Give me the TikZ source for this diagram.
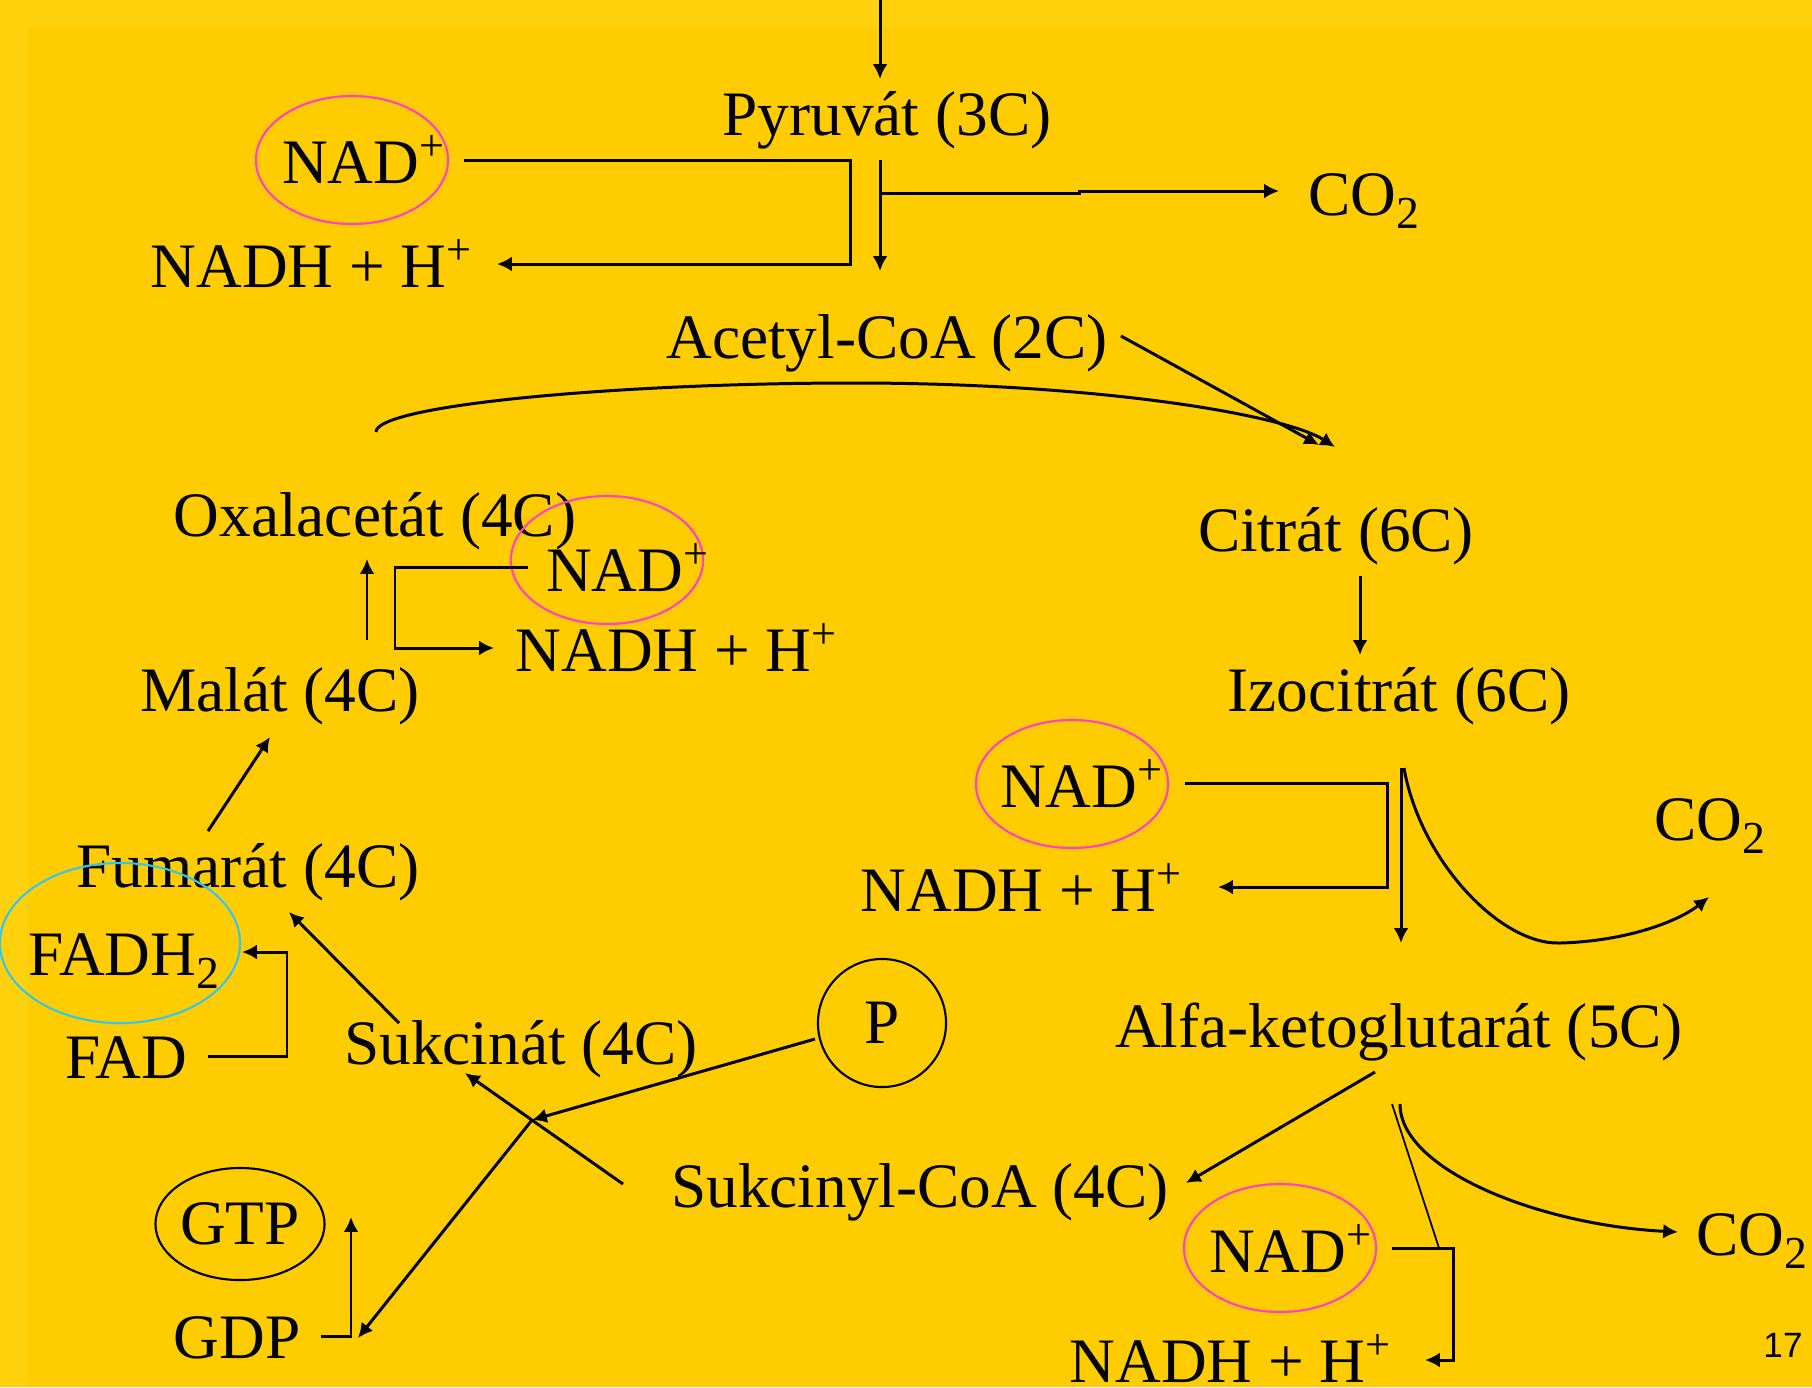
\documentclass[tikz,border=0pt]{standalone}
\usepackage{fontspec}
\setmainfont{Liberation Serif}
\newfontfamily\pagefont{Liberation Sans}
\usetikzlibrary{arrows.meta,shapes.geometric}
\definecolor{slide}{HTML}{FFCC00}
\definecolor{slideband}{HTML}{FFD10C}
\definecolor{ringpink}{HTML}{FF40C8}
\definecolor{ringcyan}{HTML}{30C8F0}
\newcommand{\lowtwo}{\raisebox{-0.22em}{\fontsize{13}{13}\selectfont 2}}

\begin{document}
\begin{tikzpicture}[x=0.01cm,y=-0.01cm,
  chem/.style={font=\fontsize{18}{21}\selectfont,inner sep=0pt,anchor=base},
  ring/.style={ellipse,draw=ringpink,line width=0.6pt,minimum width=1.92cm,
               minimum height=1.28cm,inner sep=0pt},
  cyanring/.style={ellipse,draw=ringcyan,line width=0.6pt,minimum width=2.4cm,
               minimum height=1.6cm,inner sep=0pt},
  blackring/.style={ellipse,draw,line width=0.6pt,inner sep=0pt,
               font=\fontsize{18}{21}\selectfont},
  pagenum/.style={font=\pagefont\fontsize{10}{12}\selectfont,inner sep=0pt,anchor=base},
  arr/.style={-{Latex[length=4.2pt,width=4.2pt]},line width=0.85pt},
  ln/.style={line width=0.85pt},
  thinln/.style={line width=0.5pt}]
\useasboundingbox (0,0) rectangle (1812,1387);
\fill[slide] (0,0) rectangle (1812,1387);
\fill[slideband] (0,0) rectangle (28,1387);
\fill[slideband] (0,0) rectangle (1812,28);

% compounds
\node[chem] (pyr)    at (887,135)  {Pyruvát (3C)};
\node[chem] (acetyl) at (887,358)  {Acetyl-CoA (2C)};
\node[chem] (citrat) at (1336,551) {Citrát (6C)};
\node[chem] (izocit) at (1399,711) {Izocitrát (6C)};
\node[chem] (alfa)   at (1399,1047) {Alfa-ketoglutarát (5C)};
\node[chem] (sukcoa) at (920,1207) {Sukcinyl-CoA (4C)};
\node[chem] (sukc)   at (521,1064) {Sukcinát (4C)};
\node[chem] (fum)    at (248,887)  {Fumarát (4C)};
\node[chem] (malat)  at (280,711)  {Malát (4C)};
\node[chem] (oxal)   at (375,536)  {Oxalacetát (4C)};

% cofactors
\node[ring] (ringA) at (352,160) {};
\node[chem] (nadA)  at (364,183) {NAD\textsuperscript{+}};
\node[chem] (nadhA) at (312,287) {NADH + H\textsuperscript{+}};
\node[chem] (co2A)  at (1364,215) {CO\lowtwo};
\node[ring] (ringD) at (607,560) {};
\node[chem] (nadD)  at (628,591) {NAD\textsuperscript{+}};
\node[chem] (nadhD) at (677,671) {NADH + H\textsuperscript{+}};
\node[ring] (ringB) at (1072,784) {};
\node[chem] (nadB)  at (1082,807) {NAD\textsuperscript{+}};
\node[chem] (nadhB) at (1022,911) {NADH + H\textsuperscript{+}};
\node[chem] (co2B)  at (1710,840) {CO\lowtwo};
\node[ring] (ringC) at (1280,1248) {};
\node[chem] (nadC)  at (1291,1272) {NAD\textsuperscript{+}};
\node[chem] (nadhC) at (1231,1382) {NADH + H\textsuperscript{+}};
\node[chem] (co2C)  at (1752,1255) {CO\lowtwo};
\node[cyanring] (ringF) at (120,943) {};
\node[chem] (fadh)  at (124,975)  {FADH\lowtwo};
\node[chem] (fad)   at (126,1078) {FAD};
\node[blackring,minimum width=1.6cm,minimum height=1.12cm] (gtp) at (240,1224) {GTP};
\node[chem] (gdp)   at (237,1358) {GDP};
\node[blackring,circle,minimum size=1.28cm] (pi) at (882,1023) {P};
\node[pagenum] (page) at (1783,1357) {17};

% connector ends
\coordinate (pyr-in)     at (880,0);
\coordinate (pyr-top)    at (880,79);
\coordinate (pyr-out)    at (880,160);
\coordinate (acetyl-in)  at (880,271);
\coordinate (co2A-fork)  at (880,193);
\coordinate (co2A-step)  at (1079,193);
\coordinate (co2A-in)    at (1279,191);
\coordinate (nadA-out)   at (464,160);
\coordinate (bendA)      at (850,264);
\coordinate (nadhA-in)   at (497,264);
\coordinate (acetyl-out) at (1121,336);
\coordinate (citrat-in)  at (1319,445);
\coordinate (citrat-in2) at (1335,447);
\coordinate (oxal-out)   at (376,432);
\coordinate (citrat-out) at (1360,576);
\coordinate (izocit-in)  at (1360,655);
\coordinate (izocit-out) at (1401,768);
\coordinate (alfa-in)    at (1401,943);
\coordinate (izocit-co2) at (1404,768);
\coordinate (co2B-in)    at (1709,897);
\coordinate (nadB-out)   at (1185,783);
\coordinate (bendB)      at (1387,887);
\coordinate (nadhB-in)   at (1218,887);
\coordinate (alfa-out)   at (1375,1072);
\coordinate (sukcoa-in)  at (1186,1183);
\coordinate (alfa-nad)   at (1392,1104);
\coordinate (joinC)      at (1439,1248);
\coordinate (alfa-co2)   at (1400,1104);
\coordinate (co2C-in)    at (1678,1232);
\coordinate (nadC-out)   at (1392,1248);
\coordinate (bendC)      at (1453,1360);
\coordinate (nadhC-in)   at (1425,1360);
\coordinate (sukcoa-out) at (623,1184);
\coordinate (sukc-in)    at (465,1073);
\coordinate (pi-out)     at (815,1039);
\coordinate (junction)   at (532,1120);
\coordinate (gdp-in)     at (358,1338);
\coordinate (gdp-out)    at (321,1336);
\coordinate (gtp-in)     at (351,1217);
\coordinate (sukc-out)   at (399,1023);
\coordinate (fum-in)     at (289,912);
\coordinate (fad-out)    at (208,1056);
\coordinate (bendF)      at (287,952);
\coordinate (fadh-in)    at (242,952);
\coordinate (fum-out)    at (208,831);
\coordinate (malat-in)   at (270,737);
\coordinate (malat-out)  at (367,640);
\coordinate (oxal-in)    at (367,559);
\coordinate (nadD-out)   at (528,567);
\coordinate (bendD)      at (395,648);
\coordinate (nadhD-in)   at (494,648);

% pyruvate -> acetyl-CoA
\draw[arr] (pyr-in) -- (pyr-top);
\draw[arr] (pyr-out) -- (acetyl-in);
\draw[arr] (co2A-fork) -- (co2A-step) |- (co2A-in);
\draw[arr] (nadA-out) -| (bendA) -- (nadhA-in);

% citrate cycle
\draw[arr] (acetyl-out) -- (citrat-in);
\draw[arr] (oxal-out) .. controls (376,405) and (620,383) .. (854,383)
           .. controls (1100,383) and (1285,415) .. (citrat-in2);
\draw[arr] (citrat-out) -- (izocit-in);
\draw[arr] (izocit-out) -- (alfa-in);
\draw[arr] (izocit-co2) .. controls (1420,860) and (1500,945) .. (1560,943)
           .. controls (1630,941) and (1680,920) .. (co2B-in);
\draw[arr] (nadB-out) -| (bendB) -- (nadhB-in);
\draw[arr] (alfa-out) -- (sukcoa-in);
\draw[thinln] (alfa-nad) -- (joinC);
\draw[arr] (alfa-co2) .. controls (1400,1170) and (1540,1225) .. (co2C-in);
\draw[arr] (nadC-out) -| (bendC) -- (nadhC-in);
\draw[arr] (sukcoa-out) -- (sukc-in);
\draw[arr] (pi-out) -- (junction);
\draw[arr] (junction) -- (gdp-in);
\draw[arr] (gdp-out) -| (gtp-in);
\draw[arr] (sukc-out) -- (fum-in);
\draw[arr] (fad-out) -| (bendF) -- (fadh-in);
\draw[arr] (fum-out) -- (malat-in);
\draw[arr] (malat-out) -- (oxal-in);
\draw[arr] (nadD-out) -| (bendD) -- (nadhD-in);
\end{tikzpicture}
\end{document}
